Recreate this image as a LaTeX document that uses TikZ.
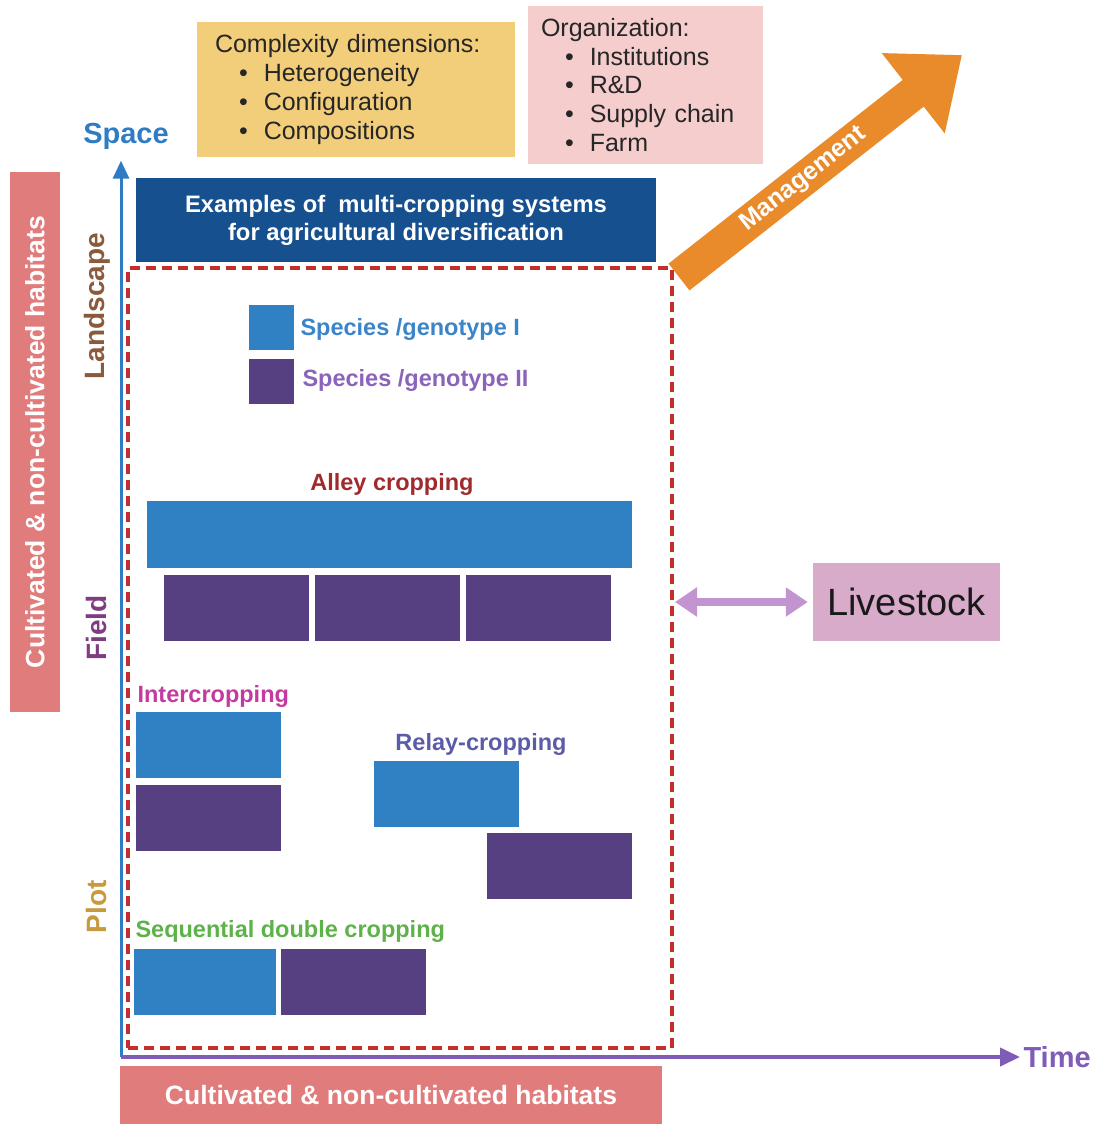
\documentclass[tikz,border=0pt]{standalone}
\usepackage{fontspec}
\setmainfont{Liberation Sans}
\usetikzlibrary{arrows.meta}
\definecolor{spaceblue}{HTML}{2F7CC4}
\definecolor{timepurple}{HTML}{7E5CB8}
\definecolor{headblue}{HTML}{17508E}
\definecolor{boxyellow}{HTML}{F3CE7A}
\definecolor{boxpink}{HTML}{F5CDCD}
\definecolor{mgmtorange}{HTML}{E98B2B}
\definecolor{framered}{HTML}{C62D2B}
\definecolor{livepink}{HTML}{D9ABCB}
\definecolor{livearrow}{HTML}{C295D0}
\definecolor{habitatpink}{HTML}{E07C7B}
\definecolor{cropblue}{HTML}{3080C4}
\definecolor{croppurple}{HTML}{574082}
\definecolor{landbrown}{HTML}{8B5A3C}
\definecolor{fieldpurple}{HTML}{7F3C82}
\definecolor{plotochre}{HTML}{C79A3E}
\definecolor{alleyred}{HTML}{A02A2C}
\definecolor{intermagenta}{HTML}{C43A9E}
\definecolor{relayblue}{HTML}{5B5CA6}
\definecolor{seqgreen}{HTML}{5DB24A}
\definecolor{specIblue}{HTML}{3A85C9}
\definecolor{specIIpurple}{HTML}{8B63BB}
\newcommand{\itm}[1]{\\\hspace*{24pt}\textbullet\hspace{16pt}#1}
\begin{document}
\begin{tikzpicture}[x=1pt,y=-1pt,
  crop/.style={anchor=north west,inner sep=0pt,outer sep=0pt,minimum width=145pt,minimum height=66pt},
  cropI/.style={crop,fill=cropblue},
  cropII/.style={crop,fill=croppurple},
  croplabel/.style={font=\bfseries\fontsize{23.5}{27}\selectfont},
  scalelabel/.style={rotate=90,font=\bfseries\fontsize{28}{32}\selectfont},
  listbox/.style={align=left,inner ysep=0pt,text=black!85,font=\fontsize{25}{28.7}\selectfont},
  habitat/.style={fill=habitatpink,text=white,inner sep=0pt,font=\bfseries\fontsize{26.5}{30}\selectfont},
  axislabel/.style={font=\bfseries\fontsize{29}{32}\selectfont}]
\useasboundingbox (0,0) rectangle (1098,1124);
% top boxes
\node[listbox,fill=boxyellow,text width=282pt,inner xsep=18pt,minimum height=135pt] (complexity) at (356,89.5)
  {Complexity dimensions:\itm{Heterogeneity}\itm{Configuration}\itm{Compositions}};
\node[listbox,fill=boxpink,text width=209pt,inner xsep=13pt,minimum height=158pt] (organization) at (645.5,85)
  {Organization:\itm{Institutions}\itm{R\&D}\itm{Supply chain}\itm{Farm}};
\node[fill=headblue,text=white,align=center,minimum width=520pt,minimum height=84pt,font=\bfseries\fontsize{23.8}{28}\selectfont] (examples) at (396,220)
  {Examples of~ multi-cropping systems\\for agricultural diversification};
% habitats
\node[habitat,rotate=90,minimum width=540pt,minimum height=50pt] (habitatleft) at (35,442) {Cultivated \& non-cultivated habitats};
\node[habitat,minimum width=542pt,minimum height=58pt] (habitatbottom) at (391,1095) {Cultivated \& non-cultivated habitats};
% axes
\coordinate (origin) at (121,1057);
\node[axislabel,text=spaceblue] (space) at (126,136) {Space};
\node[axislabel,text=timepurple,anchor=west] (time) at (1020,1057) {Time};
\draw[spaceblue,line width=3pt,-{Triangle[length=18pt,width=16pt]},shorten >=8pt] (origin) -- (origin |- space.south);
\draw[timepurple,line width=4pt,-{Triangle[length=20pt,width=18pt]}] (origin) -- (time.west);
\node[scalelabel,text=landbrown] (landscape) at (97,306) {Landscape};
\node[scalelabel,text=fieldpurple] (field) at (96,628) {Field};
\node[scalelabel,text=plotochre] (plot) at (96,907) {Plot};
% frame of examples
\node[draw=framered,line width=3.5pt,dash pattern=on 10pt off 6pt,inner sep=0pt,outer sep=0pt,anchor=north west,minimum width=544pt,minimum height=780pt] (frame) at (128,268) {};
% legend
\node[cropI,minimum width=45pt,minimum height=45pt] (legendI) at (249,305) {};
\node[cropII,minimum width=45pt,minimum height=45pt] (legendII) at (249,359) {};
\node[croplabel,text=specIblue,anchor=west] (legendItext) at (297,329) {Species /genotype I};
\node[croplabel,text=specIIpurple,anchor=west] (legendIItext) at (299,380) {Species /genotype II};
% alley cropping
\node[croplabel,text=alleyred] (alley) at (392,484) {Alley cropping};
\node[cropI,minimum width=485pt,minimum height=67pt] (alleyI) at (147,501) {};
\foreach \x [count=\i] in {164,315,466}
  \node[cropII] (alleyII\i) at (\x,575) {};
% intercropping
\node[croplabel,text=intermagenta,anchor=west] (inter) at (134,696) {Intercropping};
\node[cropI] (interI) at (136,712) {};
\node[cropII] (interII) at (136,785) {};
% relay cropping
\node[croplabel,text=relayblue] (relay) at (481,744) {Relay-cropping};
\node[cropI] (relayI) at (374,761) {};
\node[cropII] (relayII) at (487,833) {};
% sequential
\node[croplabel,text=seqgreen,anchor=west] (seq) at (132,931) {Sequential double cropping};
\node[cropI,minimum width=142pt] (seqI) at (134,949) {};
\node[cropII] (seqII) at (281,949) {};
% livestock
\node[fill=livepink,minimum width=187pt,minimum height=78pt,font=\fontsize{38}{42}\selectfont,text=black!90] (livestock) at (906.5,602) {Livestock};
\draw[livearrow,line width=8pt,{Triangle[length=22pt,width=28pt]}-{Triangle[length=22pt,width=28pt]},shorten <=3pt,shorten >=5pt] (frame.east |- livestock) -- (livestock.west);
% management
\coordinate (mgmtstart) at (679,277);
\coordinate (mgmtend) at (962,55);
\draw[mgmtorange,line width=34pt,-{Triangle[length=62pt,width=98pt]}] (mgmtstart) -- (mgmtend)
  node[pos=.44,sloped,text=white,inner sep=0pt,font=\bfseries\fontsize{25}{28}\selectfont] (mgmtlabel) {Management};
\end{tikzpicture}
\end{document}
